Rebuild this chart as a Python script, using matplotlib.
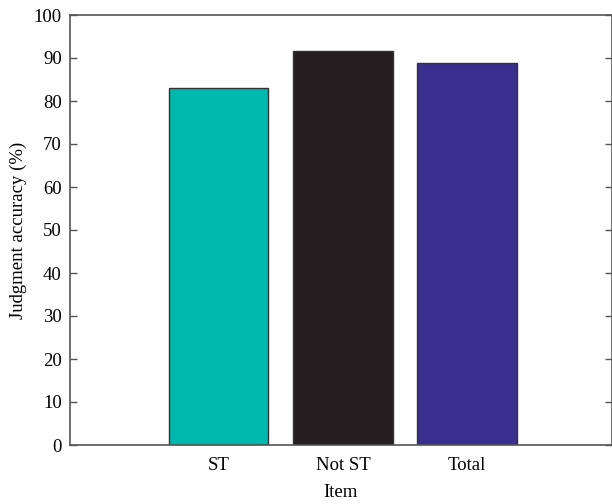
import matplotlib.pyplot as plt

# Precisión de juicio por tipo de ítem
categorias = ['ST', 'Not ST', 'Total']
precision = [83.1, 91.7, 88.9]
colores = ['#00b8ad', '#231f20', '#3a2f8f']

plt.rcParams['font.family'] = ['Liberation Serif', 'DejaVu Serif']

fig = plt.figure(figsize=(6.12, 5.04), dpi=100)
ax = fig.add_axes([70 / 612, 59 / 504, 541.5 / 612, 430 / 504])

posiciones = [1, 2, 3]
ax.bar(posiciones, precision, width=0.8, color=colores,
       edgecolor='#333333', linewidth=1.0)

ax.set_xlim(-0.2, 4.165)
ax.set_ylim(0, 100)
ax.set_yticks(range(0, 101, 10))
ax.set_xticks(posiciones)
ax.set_xticklabels(categorias)

ax.tick_params(axis='y', direction='in', length=5, width=1, color='#555555',
               labelsize=13.5, right=True, pad=6)
ax.tick_params(axis='x', length=0, labelsize=13.5, pad=9)

for lado in ['left', 'right', 'top', 'bottom']:
    ax.spines[lado].set_color('#555555')
    ax.spines[lado].set_linewidth(1.2)

ax.set_xlabel('Item', fontsize=13.5, labelpad=7)
ax.set_ylabel('Judgment accuracy (%)', fontsize=13.5, labelpad=5)

fig.savefig('out.png', dpi=100)
